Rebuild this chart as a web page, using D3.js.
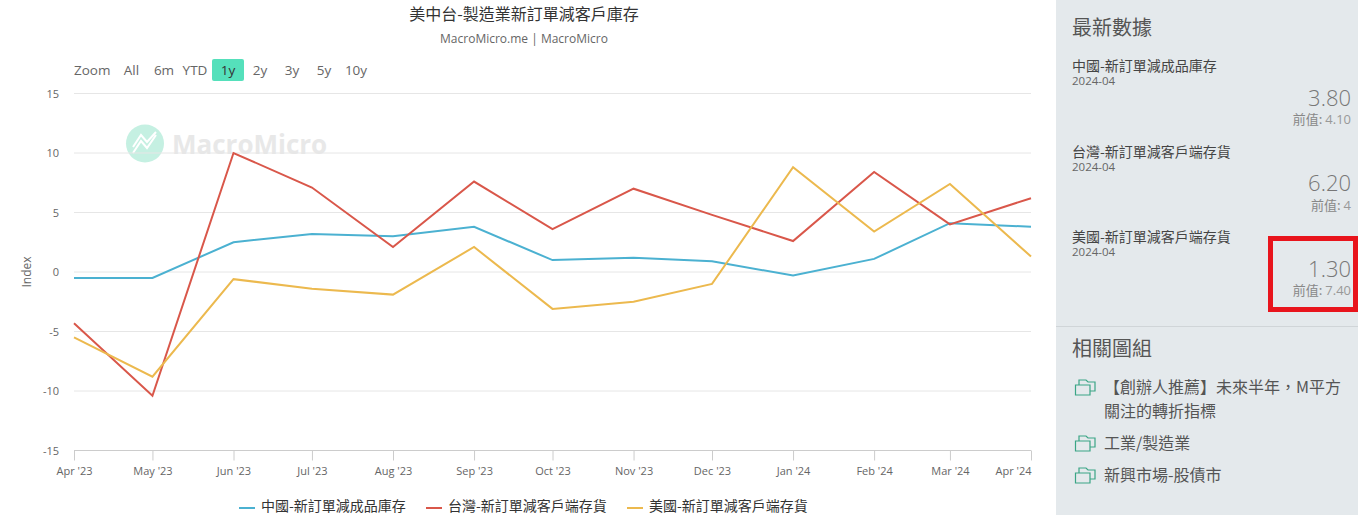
<!DOCTYPE html>
<html>
<head>
<meta charset="utf-8">
<script src="https://cdn.jsdelivr.net/npm/d3@7"></script>
<style>
html, body { margin: 0; padding: 0; background: #fff; overflow: hidden; }
svg { display: block; }
text { font-family: "Open Sans", "Noto Sans CJK TC", sans-serif; }
.cjk { font-family: "Noto Sans CJK TC", sans-serif; }
</style>
</head>
<body>
<svg id="svgBlock" width="1358" height="515"></svg>
<script>
// Data
const months = ["2023-04-01", "2023-05-01", "2023-06-01", "2023-07-01", "2023-08-01", "2023-09-01", "2023-10-01",
	"2023-11-01", "2023-12-01", "2024-01-01", "2024-02-01", "2024-03-01", "2024-04-01"];
const chinaValues = [-0.5, -0.5, 2.5, 3.2, 3.0, 3.8, 1.0, 1.2, 0.9, -0.3, 1.1, 4.1, 3.8];
const taiwanValues = [-4.3, -10.4, 10.0, 7.1, 2.1, 7.6, 3.6, 7.0, 4.8, 2.6, 8.4, 4.0, 6.2];
const usValues = [-5.5, -8.8, -0.6, -1.4, -1.9, 2.1, -3.1, -2.5, -1.0, 8.8, 3.4, 7.4, 1.3];
const seriesNames = ["中國-新訂單減成品庫存", "台灣-新訂單減客戶端存貨", "美國-新訂單減客戶端存貨"];
const seriesColors = ["#4bb1d1", "#d9574a", "#ecb94e"];
const yTicks = [-15, -10, -5, 0, 5, 10, 15];
const rangeButtons = ["All", "6m", "YTD", "1y", "2y", "3y", "5y", "10y"];
const previousValues = ["4.10", "4", "7.40"];
const latestValues = ["3.80", "6.20", "1.30"];
const relatedGroups = [["【創辦人推薦】未來半年，M平方", "關注的轉折指標"], ["工業/製造業"], ["新興市場-股債市"]];

const svg = d3.select("#svgBlock");
const dates = months.map(d => new Date(d + "T00:00:00Z"));
const seriesList = [chinaValues, taiwanValues, usValues];

// Scales
const x = d3.scaleUtc().domain([dates[0], dates[dates.length - 1]]).range([74, 1031]);
const y = d3.scaleLinear().domain([-15, 15]).range([450.5, 93.5]);

// Title
svg.append("text").attr("class", "cjk").attr("x", 524).attr("y", 20).attr("text-anchor", "middle")
	.attr("font-size", 16).attr("fill", "#333").text("美中台-製造業新訂單減客戶庫存");
svg.append("text").attr("x", 524).attr("y", 43).attr("text-anchor", "middle")
	.attr("font-size", 12).attr("fill", "#666").text("MacroMicro.me | MacroMicro");

// Watermark
const mark = svg.append("g");
mark.append("circle").attr("cx", 145).attr("cy", 143.5).attr("r", 19).attr("fill", "#c5f0e2");
mark.append("path").attr("d", "M133 153 L141 141 L147 148 L156 135 M133 147 L141 135 L147 142 L156 132")
	.attr("fill", "none").attr("stroke", "#fff").attr("stroke-width", 2);
mark.append("text").attr("x", 172).attr("y", 154).attr("font-size", 26).attr("font-weight", 700)
	.attr("fill", "#e8e8e8").text("MacroMicro");

// Range selector
svg.append("text").attr("x", 74).attr("y", 75).attr("font-size", 13.5).attr("fill", "#666").text("Zoom");
svg.append("rect").attr("x", 212).attr("y", 59).attr("width", 32).attr("height", 22).attr("rx", 2).attr("fill", "#55e0bb");
svg.selectAll(".rangeBtn").data(rangeButtons).enter().append("text")
	.attr("class", "rangeBtn")
	.attr("x", d => d === "All" ? 131.5 : d === "6m" ? 164 : d === "YTD" ? 195 : 228 + 32 * (rangeButtons.indexOf(d) - 3))
	.attr("y", 75).attr("text-anchor", "middle").attr("font-size", 13.5)
	.attr("fill", d => d === "1y" ? "#333" : "#666").text(d => d);

// Gridlines
svg.append("g").selectAll("line").data(yTicks).enter().append("line")
	.attr("x1", 74).attr("x2", 1031)
	.attr("y1", d => y(d)).attr("y2", d => y(d))
	.attr("stroke", d => d === -15 ? "#ccc" : "#e6e6e6");

// Y axis labels
svg.append("g").selectAll("text").data(yTicks).enter().append("text")
	.attr("x", 59).attr("y", d => y(d) + 4).attr("text-anchor", "end")
	.attr("font-size", 11).attr("fill", "#666").text(d => d);
svg.append("text").attr("transform", "translate(31,272) rotate(-90)").attr("text-anchor", "middle")
	.attr("font-size", 12).attr("fill", "#666").text("Index");

// X axis
const fmt = d3.utcFormat("%b '%y");
const xAxis = d3.axisBottom(x).tickValues(dates).tickSize(10).tickSizeOuter(0).tickFormat(fmt);
const xg = svg.append("g").attr("transform", "translate(0,450.5)").call(xAxis);
xg.select(".domain").remove();
xg.selectAll("line").attr("stroke", "#ccc");
xg.selectAll("text").attr("font-size", 11).attr("fill", "#666").attr("font-family", null).attr("y", 17)
	.attr("text-anchor", (d, i) => i === dates.length - 1 ? "end" : "middle");

// Lines
const line = d3.line().x((d, i) => x(dates[i])).y(d => y(d));
svg.append("g").selectAll("path").data(seriesList).enter().append("path")
	.attr("d", line).attr("fill", "none")
	.attr("stroke", (d, i) => seriesColors[i]).attr("stroke-width", 2);

// Legend
const legendX = [239, 426, 627];
seriesNames.forEach((name, i) => {
	svg.append("line").attr("x1", legendX[i]).attr("x2", legendX[i] + 16).attr("y1", 508).attr("y2", 508)
		.attr("stroke", seriesColors[i]).attr("stroke-width", 2);
	svg.append("text").attr("class", "cjk").attr("x", legendX[i] + 22).attr("y", 511)
		.attr("font-size", 14).attr("fill", "#333").text(name);
});

// Side panel
svg.append("rect").attr("x", 1056).attr("y", 0).attr("width", 302).attr("height", 515).attr("fill", "#e4e9ec");
svg.append("line").attr("x1", 1056).attr("x2", 1358).attr("y1", 326.5).attr("y2", 326.5).attr("stroke", "#d0d5d8");
svg.append("text").attr("class", "cjk").attr("x", 1072).attr("y", 35).attr("font-size", 20).attr("fill", "#555").text("最新數據");

const rowTops = [0, 85.5, 171];
seriesNames.forEach((name, i) => {
	const g = svg.append("g").attr("transform", `translate(0,${rowTops[i]})`);
	g.append("text").attr("class", "cjk").attr("x", 1072).attr("y", 71).attr("font-size", 14).attr("fill", "#444").text(name);
	g.append("text").attr("x", 1072).attr("y", 85).attr("font-size", 11.5).attr("fill", "#666").text("2024-04");
	g.append("text").attr("x", 1351).attr("y", 105.5).attr("text-anchor", "end").attr("font-size", 22)
		.attr("font-weight", 300).attr("fill", "#777").text(latestValues[i]);
	const prev = g.append("text").attr("x", 1351).attr("y", 124).attr("text-anchor", "end").attr("font-size", 13).attr("fill", "#999");
	prev.append("tspan").attr("class", "cjk").attr("fill", "#888").text("前值: ");
	prev.append("tspan").text(previousValues[i]);
});

// Red highlight box
svg.append("rect").attr("x", 1270.5).attr("y", 238.5).attr("width", 85).attr("height", 71)
	.attr("fill", "none").attr("stroke", "#e8141c").attr("stroke-width", 5);

svg.append("text").attr("class", "cjk").attr("x", 1072).attr("y", 356).attr("font-size", 20).attr("fill", "#555").text("相關圖組");

// Related groups
const groupY = [392, 448, 480];
relatedGroups.forEach((rows, i) => {
	const g = svg.append("g").attr("transform", `translate(1075,${groupY[i]})`);
	g.append("path").attr("d", "M4 -7 V-12 H11 L13 -10 H20 V-1 H15 M0.5 -7 H15 V3 H0.5 Z")
		.attr("fill", "none").attr("stroke", "#3aa585").attr("stroke-width", 1.2);
	rows.forEach((r, j) => {
		g.append("text").attr("class", "cjk").attr("x", 29).attr("y", 1 + j * 24)
			.attr("font-size", 16).attr("fill", "#555").text(r);
	});
});
</script>
</body>
</html>
